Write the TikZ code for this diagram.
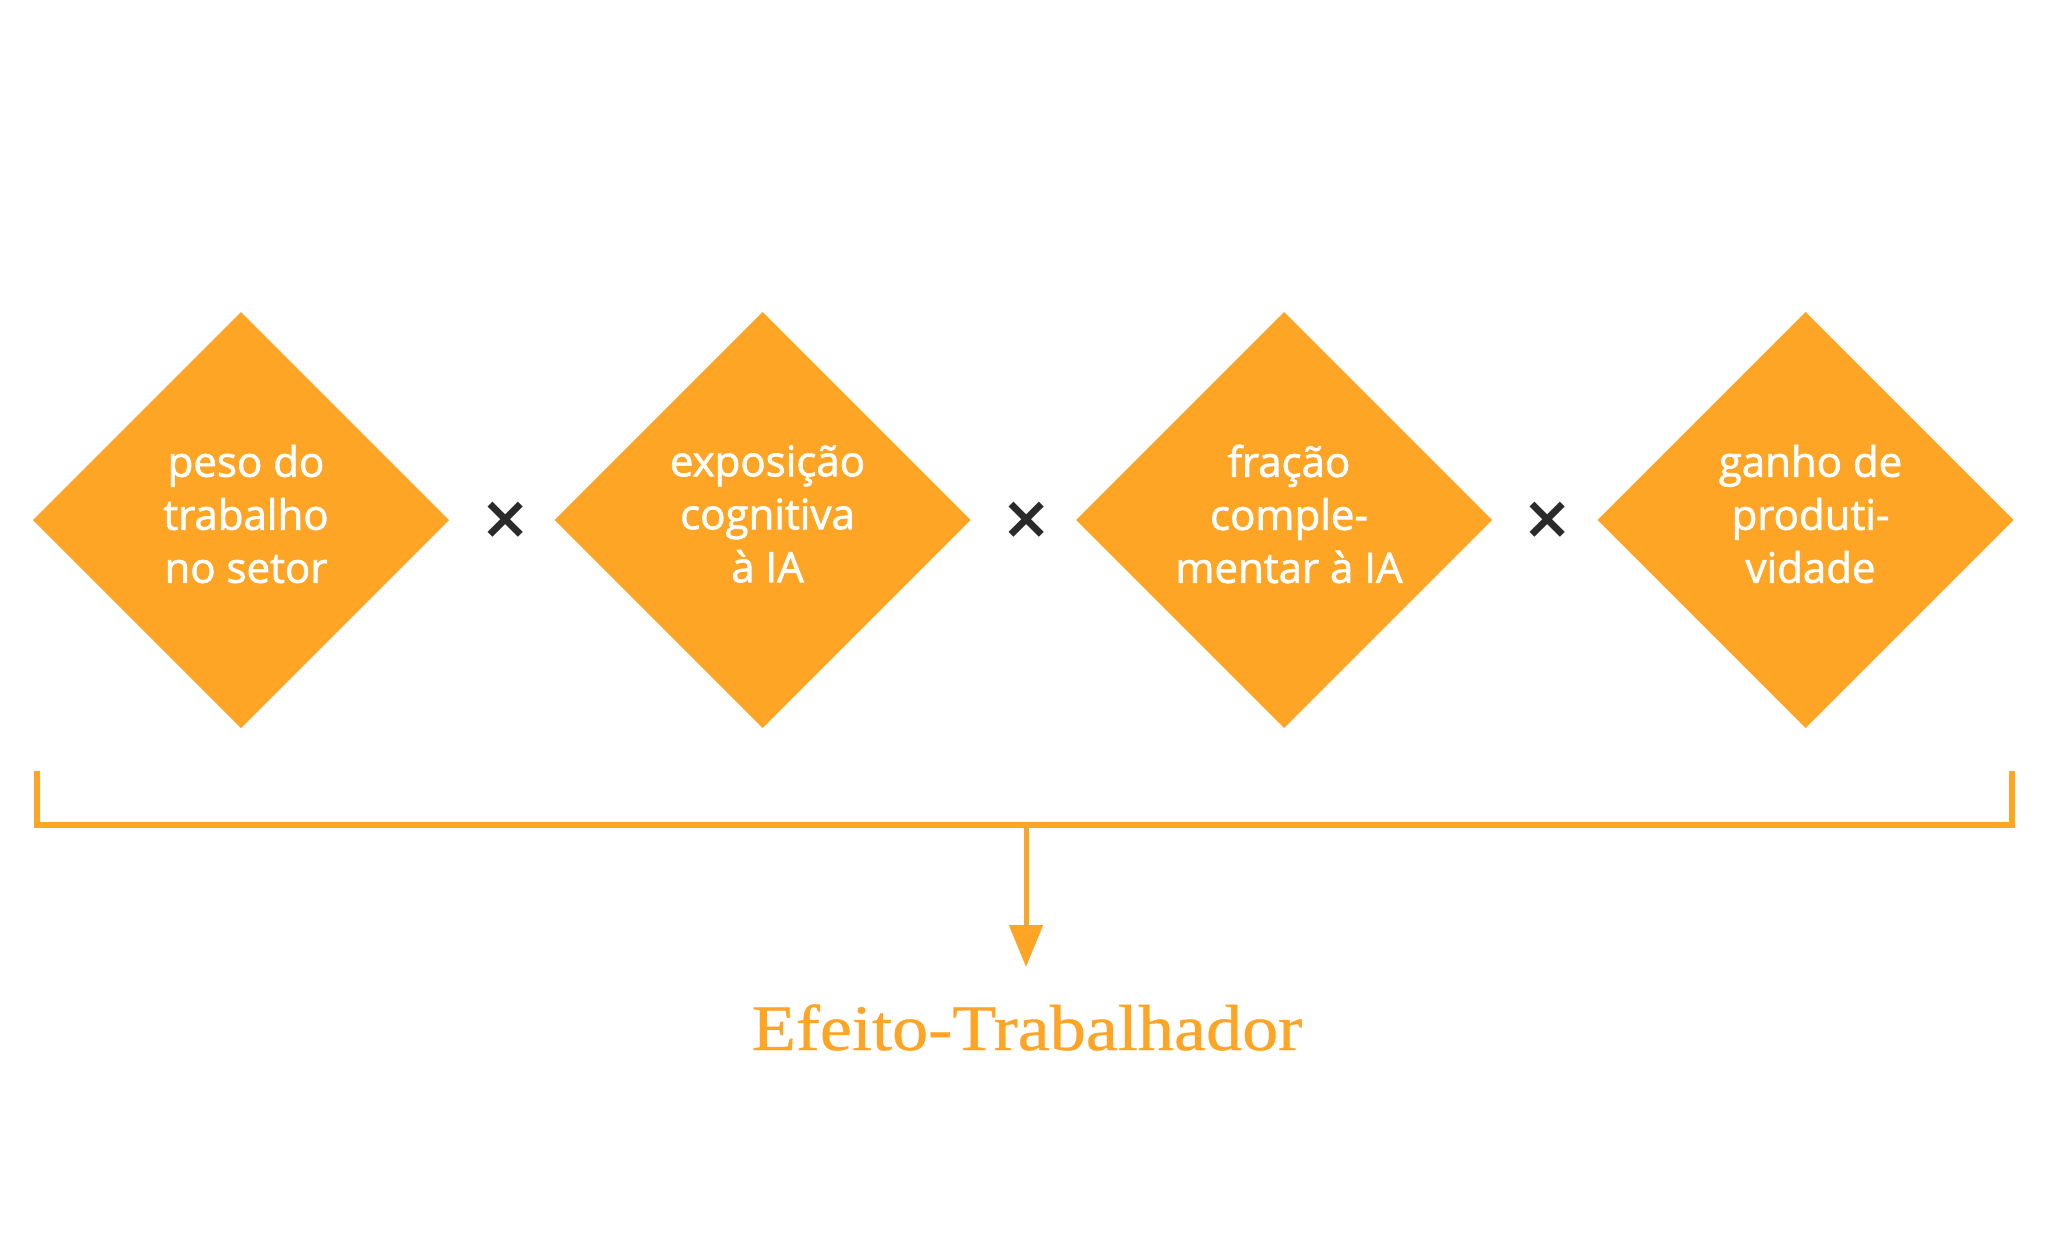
\documentclass[tikz,border=0pt]{standalone}
\usepackage{fontspec}
\setmainfont[FakeBold=1.6]{Open Sans}
\newfontfamily\diamondfont[FakeBold=1.6]{Open Sans}
\newfontfamily\titlefont[FakeStretch=1.11,FakeBold=0.6]{Liberation Serif}
\newfontfamily\symfont{DejaVu Sans}
\usetikzlibrary{shapes.geometric,arrows.meta}
\definecolor{orng}{HTML}{FFA526}
\definecolor{darkx}{HTML}{2A2A2A}
\begin{document}
\begin{tikzpicture}[x=1pt,y=-1pt,
  factor/.style={diamond, aspect=1, fill=orng, minimum width=416pt, minimum height=416pt, inner sep=0pt, outer sep=0pt},
  ftext/.style={text=white, align=center, inner sep=0pt, font=\diamondfont\fontsize{42}{53}\selectfont},
  timesign/.style={text=darkx, inner sep=0pt, font=\symfont\bfseries\fontsize{60}{60}\selectfont},
  bracketline/.style={draw=orng, line width=6pt},
  arrowline/.style={draw=orng, line width=5pt, -{Triangle[width=33pt,length=42pt]}},
  titletext/.style={text=orng, inner sep=0pt, font=\titlefont\fontsize{65}{65}\selectfont}
]
\useasboundingbox (0,0) rectangle (2070,1250);
\fill[white] (0,0) rectangle (2070,1250);

\node[factor] (d1) at (241,520) {};
\node[factor] (d2) at (762.5,520) {};
\node[factor] (d3) at (1284,520) {};
\node[factor] (d4) at (1805.5,520) {};

\node[ftext] (t1) at ([xshift=5pt,yshift=6pt]d1.center) {peso do\\trabalho\\no setor};
\node[ftext] (t2) at ([xshift=5pt,yshift=6pt]d2.center) {exposição\\cognitiva\\à IA};
\node[ftext] (t3) at ([xshift=5pt,yshift=6pt]d3.center) {fração\\comple-\\mentar à IA};
\node[ftext] (t4) at ([xshift=5pt,yshift=6pt]d4.center) {ganho de\\produti-\\vidade};

\node[timesign] (x1) at (505.5,520) {×};
\node[timesign] (x2) at (1027,520) {×};
\node[timesign] (x3) at (1548,520) {×};

\coordinate (bl) at (37,771);
\coordinate (blc) at (37,825);
\coordinate (brc) at (2012,825);
\coordinate (br) at (2012,771);
\coordinate (bm) at (1026,825);
\coordinate (tip) at (1026,967);
\draw[bracketline] (bl) -- (blc) -- (brc) -- (br);
\draw[arrowline] (bm) -- (tip);

\node[titletext, anchor=base] (title) at (1027,1050) {Efeito-Trabalhador};
\end{tikzpicture}
\end{document}
